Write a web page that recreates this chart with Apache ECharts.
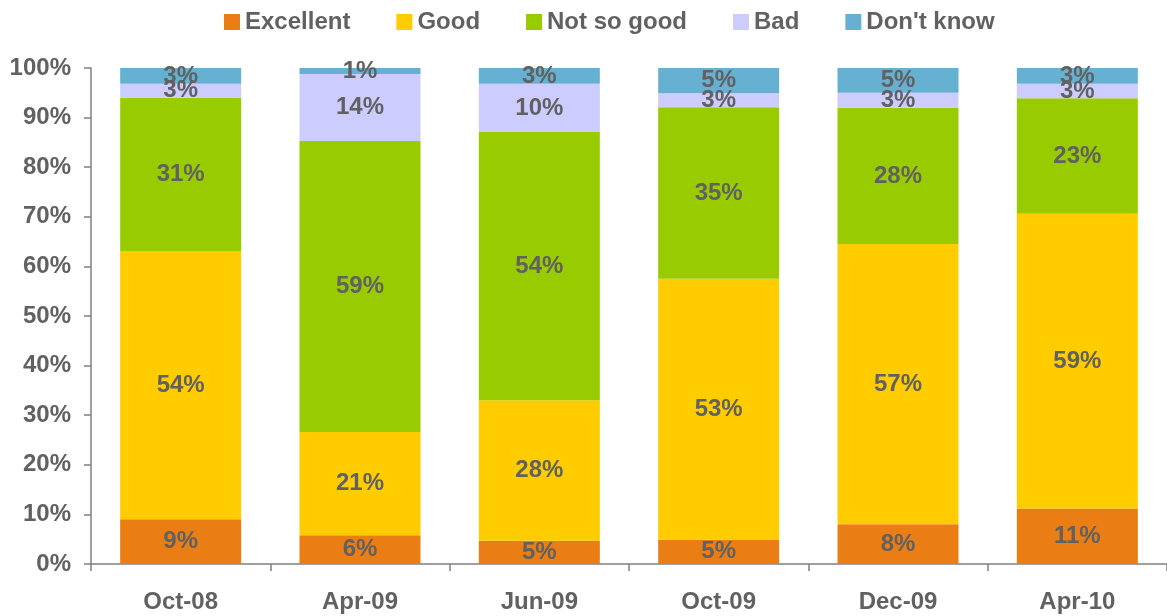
<!DOCTYPE html>
<html>
<head>
<meta charset="utf-8">
<script src="https://cdn.jsdelivr.net/npm/echarts@6/dist/echarts.min.js"></script>
<style>
  html, body { margin: 0; padding: 0; background: #fff; }
  #barchart { width: 1167px; height: 616px; }
</style>
</head>
<body>
<div id="barchart"></div>
<script>
var categories = ['Oct-08', 'Apr-09', 'Jun-09', 'Oct-09', 'Dec-09', 'Apr-10'];
var excellent = [9.0, 5.8, 4.7, 4.9, 8.0, 11.2];
var good = [54.1, 20.8, 28.3, 52.6, 56.5, 59.4];
var notSoGood = [30.9, 58.7, 54.1, 34.6, 27.5, 23.3];
var bad = [2.8, 13.5, 9.7, 2.8, 3.0, 2.9];
var dontKnow = [3.2, 1.2, 3.2, 5.1, 5.0, 3.2];
var yTicks = [0, 10, 20, 30, 40, 50, 60, 70, 80, 90, 100];

var myChart = echarts.init(document.getElementById('barchart'));
var textColor = '#616161';
var fontFam = '"Liberation Sans", Arial, sans-serif';

function makeSeries(name, data, color) {
    return {
        name: name,
        type: 'bar',
        stack: 'all',
        data: data,
        barWidth: 121,
        itemStyle: { color: color },
        label: {
            show: true,
            position: 'inside',
            formatter: function (p) { return Math.round(p.value) + '%'; },
            color: textColor,
            fontSize: 24,
            fontWeight: 'bold',
            fontFamily: fontFam
        }
    };
}

var option = {
    animation: false,
    grid: {
        left: 91,
        right: -4,
        top: 68,
        bottom: 52
    },
    legend: {
        top: 5,
        left: 219,
        itemWidth: 16,
        itemHeight: 16,
        itemGap: 46,
        icon: 'rect',
        textStyle: {
            color: textColor,
            fontSize: 24,
            fontWeight: 'bold',
            fontFamily: fontFam
        }
    },
    xAxis: {
        type: 'category',
        data: categories,
        axisLine: { lineStyle: { color: '#808080', width: 1.5 } },
        axisTick: { show: true, length: 7, lineStyle: { color: '#808080', width: 1.5 } },
        axisLabel: {
            margin: 26,
            color: textColor,
            fontSize: 24,
            fontWeight: 'bold',
            fontFamily: fontFam
        }
    },
    yAxis: {
        type: 'value',
        min: yTicks[0],
        max: yTicks[yTicks.length - 1],
        interval: 10,
        splitLine: { show: false },
        axisLine: { show: true, lineStyle: { color: '#808080', width: 1.5 } },
        axisTick: { show: true, length: 7, lineStyle: { color: '#808080', width: 1.5 } },
        axisLabel: {
            margin: 20,
            formatter: '{value}%',
            color: textColor,
            fontSize: 24,
            fontWeight: 'bold',
            fontFamily: fontFam
        }
    },
    series: [
        makeSeries('Excellent', excellent, '#EA7E14'),
        makeSeries('Good', good, '#FFCC00'),
        makeSeries('Not so good', notSoGood, '#99CC00'),
        makeSeries('Bad', bad, '#CCCCFF'),
        makeSeries("Don't know", dontKnow, '#66B0D2')
    ]
};
myChart.setOption(option);
</script>
</body>
</html>
